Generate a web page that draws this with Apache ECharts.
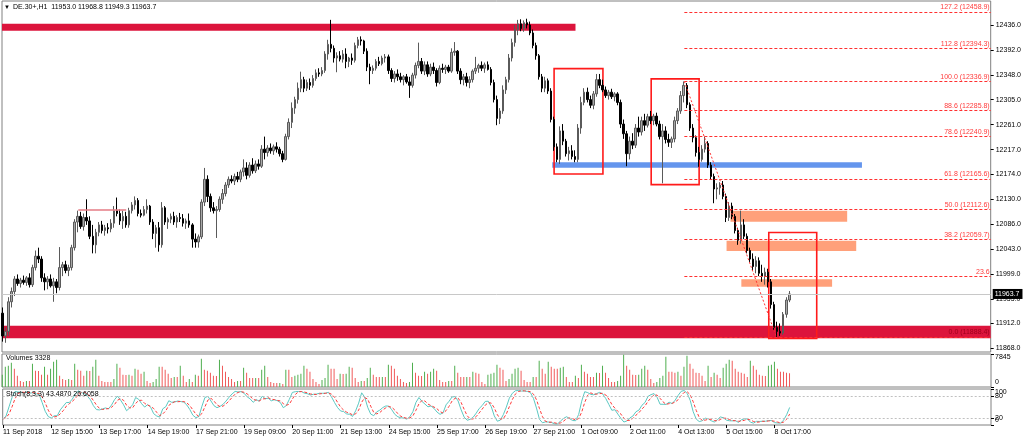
<!DOCTYPE html>
<html><head><meta charset="utf-8">
<script src="https://cdn.jsdelivr.net/npm/echarts@6/dist/echarts.min.js"></script>
<style>html,body{margin:0;padding:0;background:#fff}#c{width:1024px;height:441px}</style>
</head><body><div id="c"></div>
<script>
// ---------------- DATA (DE.30+, H1) ----------------
const OPEN = [
11930,11890,11898,11950,11968,11990,11982,11988,11984,11992,
11980,12010,12030,12025,11992,11985,11990,11978,11985,11975,
12010,12015,12005,12010,12045,12090,12100,12082,12098,12092,
12065,12050,12072,12085,12075,12080,12078,12088,12110,12105,
12092,12100,12085,12110,12120,12128,12105,12102,12112,12118,
12090,12070,12080,12050,12115,12090,12095,12100,12090,12098,
12096,12088,12092,12085,12060,12055,12064,12125,12165,12135,
12115,12110,12112,12130,12140,12155,12165,12162,12170,12165,
12178,12185,12172,12190,12180,12192,12188,12218,12212,12220,
12215,12222,12218,12210,12200,12240,12265,12290,12305,12325,
12340,12325,12335,12330,12342,12352,12350,12356,12385,12402,
12395,12378,12382,12376,12385,12372,12378,12374,12400,12410,
12408,12390,12362,12356,12360,12372,12368,12378,12380,12356,
12342,12350,12345,12340,12345,12336,12330,12348,12365,12372,
12355,12366,12350,12362,12356,12335,12360,12358,12362,12355,
12388,12390,12355,12340,12345,12335,12340,12355,12360,12365,
12360,12366,12358,12335,12305,12272,12285,12322,12340,12378,
12405,12428,12438,12430,12440,12436,12422,12400,12382,12345,
12325,12338,12320,12270,12222,12200,12250,12232,12210,12215,
12205,
12200,12255,12300,12318,12305,12295,12315,12340,
12330,12322,12312,12318,12310,12315,12300,12262,12245,12210,
12232,12225,12255,12248,12268,12260,12275,12268,12276,12262,
12240,12250,12235,12230,12236,12268,12285,12312,12330,12296,
12255,12238,12212,12200,12218,12228,12190,12170,12148,12150,
12155,12135,12098,12118,12100,12075,12058,12085,12065,12040,
12025,12012,12022,12000,11995,12002,11985,11945,11905,11898,
11895,11928,11953.0];
const HIGH = [
11940,11905,11958,11975,11995,11998,11992,11996,11995,12000,
12015,12040,12045,12030,12000,11995,11998,11992,11990,12046,
12020,12022,12015,12050,12095,12110,12108,12105,12130,12100,
12085,12078,12090,12092,12085,12088,12095,12118,12133,12112,
12110,12108,12115,12125,12135,12132,12112,12118,12130,12120,
12095,12085,12090,12125,12118,12098,12105,12108,12102,12106,
12104,12096,12105,12088,12070,12068,12130,12185,12172,12140,
12125,12118,12135,12148,12160,12170,12172,12175,12178,12182,
12200,12195,12195,12202,12198,12200,12225,12240,12225,12228,
12226,12230,12222,12215,12245,12272,12300,12310,12335,12354,
12345,12340,12342,12348,12358,12360,12362,12390,12410,12445,
12400,12388,12390,12392,12395,12380,12386,12405,12415,12416,
12410,12395,12368,12365,12376,12380,12382,12385,12384,12360,
12355,12358,12352,12348,12350,12345,12352,12370,12405,12378,
12372,12372,12368,12370,12360,12365,12368,12366,12366,12395,
12406,12392,12360,12350,12352,12346,12358,12380,12368,12372,
12370,12372,12362,12340,12312,12290,12330,12345,12385,12412,
12436,12445,12446,12444,12447,12442,12428,12405,12385,12350,
12345,12342,12325,12275,12228,12258,12262,12236,12222,12225,
12216,
12262,12310,12325,12326,12312,12320,12350,12350,
12340,12328,12322,12324,12318,12318,12305,12270,12250,12240,
12246,12262,12275,12275,12280,12280,12285,12280,12282,12268,
12262,12258,12245,12240,12275,12290,12320,12336.9,12334,12300,
12262,12242,12222,12225,12240,12232,12195,12175,12158,12160,
12162,12140,12125,12124,12104,12080,12110,12095,12070,12045,
12035,12030,12028,12015,12010,12008,11990,11950,11915,11912,
11932,11958,11968.8];
const LOW = [
11880,11878,11890,11940,11960,11978,11975,11980,11978,11975,
11976,12005,12018,11985,11970,11972,11975,11950,11965,11970,
11995,12000,11995,12005,12040,12072,12078,12075,12085,12060,
12035,12035,12065,12070,12066,12070,12072,12080,12100,12085,
12078,12080,12080,12105,12112,12100,12098,12100,12105,12085,
12060,12045,12038,12045,12085,12078,12088,12085,12080,12090,
12082,12078,12080,12045,12045,12045,12060,12118,12125,12108,
12105,12062,12108,12122,12135,12150,12158,12155,12160,12160,
12170,12165,12168,12175,12176,12182,12185,12200,12205,12210,
12208,12212,12205,12195,12198,12235,12255,12280,12298,12318,
12318,12320,12322,12326,12338,12345,12346,12352,12375,12388,
12370,12353,12372,12370,12360,12362,12366,12370,12395,12400,
12385,12355,12332,12350,12356,12364,12365,12370,12350,12336,
12335,12338,12335,12330,12333,12308,12326,12342,12360,12350,
12348,12345,12346,12350,12328,12332,12352,12350,12352,12352,
12382,12350,12332,12330,12328,12325,12335,12350,12352,12355,
12352,12356,12330,12300,12260,12262,12280,12315,12335,12372,
12398,12418,12425,12424,12430,12418,12395,12375,12340,12318,
12318,12315,12265,12215,12195,12192,12225,12205,12198,12200,
12195,
12195,12245,12295,12300,12290,12288,12310,12325,
12318,12308,12305,12306,12302,12295,12255,12236,12188,12200,
12218,12220,12240,12242,12250,12256,12262,12260,12258,12235,
12158,12228,12222,12220,12230,12262,12280,12300,12290,12250,
12230,12205,12187,12196,12212,12185,12165,12123,12130,12138,
12130,12090,12092,12095,12070,12050,12052,12060,12035,12020,
12005,12000,11995,11985,11980,11975,11938,11900,11888.4,11890,
11892,11922,11949.3];
const CLOSE = [
11890,11898,11950,11968,11990,11982,11988,11984,11992,11980,
12010,12030,12025,11992,11985,11990,11978,11985,11975,12010,
12015,12005,12010,12045,12090,12100,12082,12098,12092,12065,
12050,12072,12085,12075,12080,12078,12088,12110,12105,12092,
12100,12085,12110,12120,12128,12105,12102,12112,12118,12090,
12070,12080,12050,12115,12090,12095,12100,12090,12098,12096,
12088,12092,12085,12060,12055,12064,12125,12165,12135,12115,
12110,12112,12130,12140,12155,12165,12162,12170,12165,12178,
12185,12172,12190,12180,12192,12188,12218,12212,12220,12215,
12222,12218,12210,12200,12240,12265,12290,12305,12325,12340,
12325,12335,12330,12342,12352,12350,12356,12385,12402,12395,
12378,12382,12376,12385,12372,12378,12374,12400,12410,12408,
12390,12362,12356,12360,12372,12368,12378,12380,12356,12342,
12350,12345,12340,12345,12336,12330,12348,12365,12372,12355,
12366,12350,12362,12356,12335,12360,12358,12362,12355,12388,
12390,12355,12340,12345,12335,12340,12355,12360,12365,12360,
12366,12358,12335,12305,12272,12285,12322,12340,12378,12405,
12428,12438,12430,12440,12436,12422,12400,12382,12345,12325,
12338,12320,12270,12222,12200,12250,12232,12210,12215,12205,
12200,
12255,12300,12318,12305,12295,12315,12340,12330,
12322,12312,12318,12310,12315,12300,12262,12245,12210,12232,
12225,12255,12248,12268,12260,12275,12268,12276,12262,12240,
12250,12235,12230,12236,12268,12285,12312,12330,12296,12255,
12238,12212,12200,12218,12228,12190,12170,12148,12150,12155,
12135,12098,12118,12100,12075,12058,12085,12065,12040,12025,
12012,12022,12000,11995,12002,11985,11945,11905,11898,11895,
11928,11953,11963.7];
const VOLUME = [
2940,4900,5150,5880,4410,2700,1470,1230,1480,1450,
5640,3920,3900,2940,4900,2950,4410,6130,6620,2700,
1960,1720,1960,1710,5640,4170,3920,2700,3930,3900,
4900,6620,2700,1470,1230,1220,1210,1960,5640,4660,
2940,2930,2950,2700,4410,4170,3190,3680,1470,980,
1230,1960,4900,4890,4170,3190,2210,2450,2440,5150,
2700,1230,1960,1220,2940,2700,6860,4170,3920,3430,
2700,2690,6620,5150,3680,2450,1960,1230,1470,1460,
4660,3430,2210,2200,2210,2200,4170,5150,2450,1230,
980,970,980,740,4170,4160,2450,2700,2940,3190,
5150,4410,3680,1960,1230,740,1720,2210,5390,4410,
4400,1960,3190,3180,3190,4900,4660,2210,1230,1470,
1460,2210,4660,2940,2450,2440,2450,2440,5390,5150,
4410,2700,1960,1230,980,1230,5880,3430,2700,2690,
3680,3190,3680,4410,3920,1720,1230,1220,1470,1460,
5150,3430,2450,2440,2450,2440,3680,3430,3190,1230,
740,2940,3190,3430,5390,4660,4170,1470,1960,
3190,4410,4660,3920,1720,1230,1220,2450,2440,6370,
4410,3190,6130,4900,4410,4400,4660,4900,2450,1230,
1220,2700,2210,5390,3680,3190,2450,2440,3430,3420,
5150,3430,2210,1230,1220,1470,2700,7845,5150,4170,
2940,2930,2940,4410,5150,4170,1960,980,1230,2210,
2700,7350,3680,3670,3430,3680,2700,4900,7600,5640,
4410,3430,3420,2700,1470,5150,2450,3430,2940,2210,
4660,5640,6620,6370,4410,3680,3430,3190,2450,6370,
5150,4170,2940,2700,2690,5150,5390,6130,4410,3680,
3670,3430,3328];

const PRICE_TICKS = [11868,11912,11955,11999,12043,12086,12130,12174,12217,12261,12305,12348,12392,12436];
const VOLUME_TICKS = [0, 7845];
const STOCH_TICKS = [0, 20, 80, 100];
const STOCH_EDGE_LABELS = [0, 100];
const STOCH_LEVELS = [20, 80];
const TIME_LABEL_BARS = [0,16,32,48,64,80,96,112,128,144,160,176,192,208,224,240,256];
const TIME_LABELS = ['11 Sep 2018','12 Sep 15:00','13 Sep 17:00','14 Sep 19:00','17 Sep 21:00','19 Sep 09:00',
  '20 Sep 11:00','21 Sep 13:00','24 Sep 15:00','25 Sep 17:00','26 Sep 19:00','27 Sep 21:00','1 Oct 09:00',
  '2 Oct 11:00','4 Oct 13:00','5 Oct 15:00','8 Oct 17:00'];
const LAST_PRICE = 11963.7;

// Fibonacci retracement (anchor bars and prices)
const FIB_START_BAR = 226.2, FIB_END_BAR = 256.7;
const FIB_HIGH = 12336.9, FIB_LOW = 11888.4;
const FIB_PRICES = [12458.9, 12394.3, 12336.9, 12285.8, 12240.9, 12165.6, 12112.6, 12059.7, 11994.2, 11888.4];
const FIB_TEXTS = ['127.2 (12458.9)','112.8 (12394.3)','100.0 (12336.9)','88.6 (12285.8)','78.6 (12240.9)',
  '61.8 (12165.6)','50.0 (12112.6)','38.2 (12059.7)','23.6','0.0 (11888.4)'];

// Drawn objects in [bar, price] coordinates
const CRIMSON_ZONES = [[[-1, 12438], [190.1, 12426]], [[-1, 11908], [330, 11886]]];
const BLUE_ZONE = [[182.4, 12195], [285.1, 12185.4]];
const SALMON_ZONES = [[[241.5, 12109.9], [280.2, 12090.6]], [[240.2, 12057.2], [283.2, 12039]], [[245.1, 11989.4], [275.2, 11976.4]]];
const RED_BOXES = [[[183.0, 12359.3], [199.2, 12174.4]], [[215.2, 12341.4], [231.1, 12155.6]], [[254.2, 12071.6], [270.1, 11885.5]]];
const TREND_LINE = [[188.0, 12478], [330, 12386.3]];
const SHORT_LINE = [[25.2, 12111], [41.1, 12111]];

// ---------------- CHART ----------------
const FONT = 'Liberation Sans, Arial, sans-serif';
const X_MIN = -0.1, X_MAX = 327.8;

const candles = OPEN.map((o, i) => [i, o, CLOSE[i], LOW[i], HIGH[i]]);
const vols = VOLUME.map((v, i) => [i, v]);

// Stochastic (8,3,3) computed from the candles
const kArr = [], dArr = [];
for (let i = 0; i < CLOSE.length; i++) {
  let num = 0, den = 0;
  for (let j = Math.max(0, i - 2); j <= i; j++) {
    let lo = Infinity, hi = -Infinity;
    for (let m = Math.max(0, j - 7); m <= j; m++) { lo = Math.min(lo, LOW[m]); hi = Math.max(hi, HIGH[m]); }
    num += CLOSE[j] - lo; den += hi - lo;
  }
  kArr.push(den > 0 ? num / den * 100 : 50);
  let s = 0, c = 0;
  for (let j = Math.max(0, i - 2); j <= i; j++) { s += kArr[j]; c++; }
  dArr.push(s / c);
}

const zoneItem = (z, color) => [{coord: z[0], itemStyle: {color: color}}, {coord: z[1]}];
const lineItem = (a, b, style, label) => [{coord: a, lineStyle: style, label: label || {show: false}}, {coord: b}];

const backAreas = [
  ...CRIMSON_ZONES.map(z => zoneItem(z, '#DC143C')),
  zoneItem(BLUE_ZONE, '#6495ED'),
  ...SALMON_ZONES.map(z => zoneItem(z, '#FFA07A'))
];
const backLines = [
  lineItem([X_MIN, LAST_PRICE], [X_MAX, LAST_PRICE], {color: '#c8c8c8', width: 1, type: 'solid'},
    {show: true, position: 'end', formatter: String(LAST_PRICE), backgroundColor: '#000', color: '#fff',
     fontSize: 7, fontFamily: FONT, padding: [2, 3, 1, 2], distance: 2}),
  lineItem(SHORT_LINE[0], SHORT_LINE[1], {color: '#e57b85', width: 1.5, type: 'solid'}),
  ...FIB_PRICES.map((p, k) => lineItem([FIB_START_BAR, p], [X_MAX, p], {color: '#ff3030', width: 1, type: [3, 2]},
    {show: true, position: 'insideEndTop', formatter: FIB_TEXTS[k], color: k === FIB_PRICES.length - 1 ? '#a0001c' : '#ff3a3a',
     fontSize: 7, fontFamily: FONT, distance: 1})),
  lineItem([FIB_START_BAR, FIB_HIGH], [FIB_END_BAR, FIB_LOW], {color: '#ff3030', width: 1, type: [2, 2]}),
  lineItem(TREND_LINE[0], TREND_LINE[1], {color: '#ee4a4a', width: 1, type: 'solid'})
];
const frontAreas = RED_BOXES.map(z => [{coord: z[0], itemStyle: {color: 'rgba(0,0,0,0)', borderColor: '#ff1a1a', borderWidth: 1.6}}, {coord: z[1]}]);

const axisLabelBase = {fontSize: 7, fontFamily: FONT, color: '#000', hideOverlap: false};
const gridBase = {left: 2, right: 33, show: true, borderColor: '#808080', borderWidth: 1, backgroundColor: '#fff'};
const xBase = (gi) => ({type: 'value', gridIndex: gi, min: X_MIN, max: X_MAX, splitLine: {show: false},
  axisLine: {show: false, onZero: false}, axisTick: {show: false}, axisLabel: {show: false}});
const richT = {fontSize: 7, lineHeight: 8, fontFamily: FONT, color: '#000'};

const option = {
  animation: false,
  backgroundColor: '#fff',
  textStyle: {fontFamily: FONT},
  title: [
    {text: '▼', left: 4, top: 4, padding: 0, textStyle: {fontSize: 6, color: '#000', fontWeight: 'normal'}},
    {text: 'DE.30+,H1  11953.0 11968.8 11949.3 11963.7', left: 13, top: 4, padding: 0,
     textStyle: {fontSize: 7, color: '#000', fontWeight: 'normal', fontFamily: FONT}},
    {text: 'Volumes 3328', left: 6, top: 355, padding: 0,
     textStyle: {fontSize: 7, color: '#000', fontWeight: 'normal', fontFamily: FONT}},
    {text: 'Stoch(8,3,3) 43.4870 26.6058', left: 6, top: 391, padding: 0,
     textStyle: {fontSize: 7, color: '#000', fontWeight: 'normal', fontFamily: FONT}}
  ],
  grid: [
    Object.assign({top: 1, height: 351}, gridBase),
    Object.assign({top: 354, height: 33}, gridBase),
    Object.assign({top: 389, height: 36}, gridBase)
  ],
  xAxis: [
    xBase(0), xBase(1),
    Object.assign(xBase(2), {
      axisTick: {show: true, customValues: TIME_LABEL_BARS, length: 3, lineStyle: {color: '#000'}},
      axisLabel: Object.assign({show: true, customValues: TIME_LABEL_BARS, align: 'left', margin: 4,
        formatter: v => TIME_LABELS[TIME_LABEL_BARS.indexOf(Math.round(v))] || ''}, axisLabelBase)
    })
  ],
  yAxis: [
    {type: 'value', gridIndex: 0, position: 'right', min: 11861.8, max: 12478.1, splitLine: {show: false},
     axisLine: {show: false, onZero: false},
     axisTick: {show: true, customValues: PRICE_TICKS, length: 3, lineStyle: {color: '#000'}},
     axisLabel: Object.assign({customValues: PRICE_TICKS, margin: 5, formatter: v => v.toFixed(1)}, axisLabelBase)},
    {type: 'value', gridIndex: 1, position: 'right', min: 0, max: 8000, splitLine: {show: false},
     axisLine: {show: false, onZero: false},
     axisTick: {show: true, customValues: VOLUME_TICKS, length: 3, lineStyle: {color: '#000'}},
     axisLabel: {customValues: VOLUME_TICKS, margin: 4, hideOverlap: false, showMinLabel: true, showMaxLabel: true,
       formatter: v => v > 0 ? '{s|' + ' ' + '}\n{t|' + v + '}' : '{t|' + v + '}\n{b|' + ' ' + '}',
       rich: {t: richT, s: {fontSize: 1, lineHeight: 5}, b: {fontSize: 1, lineHeight: 9}}}},
    {type: 'value', gridIndex: 2, position: 'right', min: 0, max: 100, splitLine: {show: false},
     axisLine: {show: false, onZero: false},
     axisTick: {show: true, customValues: STOCH_TICKS, length: 3, lineStyle: {color: '#000'}},
     axisLabel: {customValues: STOCH_EDGE_LABELS, margin: 4, hideOverlap: false, showMinLabel: true, showMaxLabel: true,
       formatter: v => v === 100 ? '{s|' + ' ' + '}\n{t|100}' : '{t|0}\n{b|' + ' ' + '}',
       rich: {t: richT, s: {fontSize: 1, lineHeight: 7}, b: {fontSize: 1, lineHeight: 9}}}},
    {type: 'value', gridIndex: 2, position: 'right', min: 0, max: 100, splitLine: {show: false},
     axisLine: {show: false, onZero: false}, axisTick: {show: false},
     axisLabel: Object.assign({customValues: STOCH_LEVELS, margin: 4, formatter: v => String(v)}, axisLabelBase)}
  ],
  series: [
    {name: 'objects', type: 'line', xAxisIndex: 0, yAxisIndex: 0, data: [], z: 1, silent: true, clip: false,
     markArea: {silent: true, label: {show: false}, data: backAreas},
     markLine: {silent: true, symbol: ['none', 'none'], label: {show: false}, data: backLines}},
    {name: 'DE.30+', type: 'candlestick', xAxisIndex: 0, yAxisIndex: 0, data: candles, z: 3, barWidth: 2,
     itemStyle: {color: '#a8a8a8', color0: '#000000', borderColor: '#5a5a5a', borderColor0: '#000000', borderWidth: 1}},
    {name: 'frames', type: 'line', xAxisIndex: 0, yAxisIndex: 0, data: [], z: 4, silent: true, clip: false,
     markArea: {silent: true, label: {show: false}, data: frontAreas}},
    {name: 'Volumes', type: 'bar', xAxisIndex: 1, yAxisIndex: 1, data: vols, barWidth: 1,
     itemStyle: {color: p => (p.dataIndex === 0 || VOLUME[p.dataIndex] > VOLUME[p.dataIndex - 1]) ? '#4fae4f' : '#f05a5a'}},
    {name: 'Stoch main', type: 'line', xAxisIndex: 2, yAxisIndex: 2, data: kArr.map((v, i) => [i, v]),
     showSymbol: false, symbol: 'none', lineStyle: {color: '#5cc8c2', width: 1}, z: 3,
     markLine: {silent: true, symbol: ['none', 'none'], label: {show: false},
       lineStyle: {color: '#c0c0c0', type: [2, 2], width: 1},
       data: STOCH_LEVELS.map(l => ({yAxis: l}))}},
    {name: 'Stoch signal', type: 'line', xAxisIndex: 2, yAxisIndex: 2, data: dArr.map((v, i) => [i, v]),
     showSymbol: false, symbol: 'none', lineStyle: {color: '#ff3b3b', width: 1, type: [3, 2]}, z: 4}
  ]
};
const chart = echarts.init(document.getElementById('c'));
chart.setOption(option);
</script>
</body></html>
